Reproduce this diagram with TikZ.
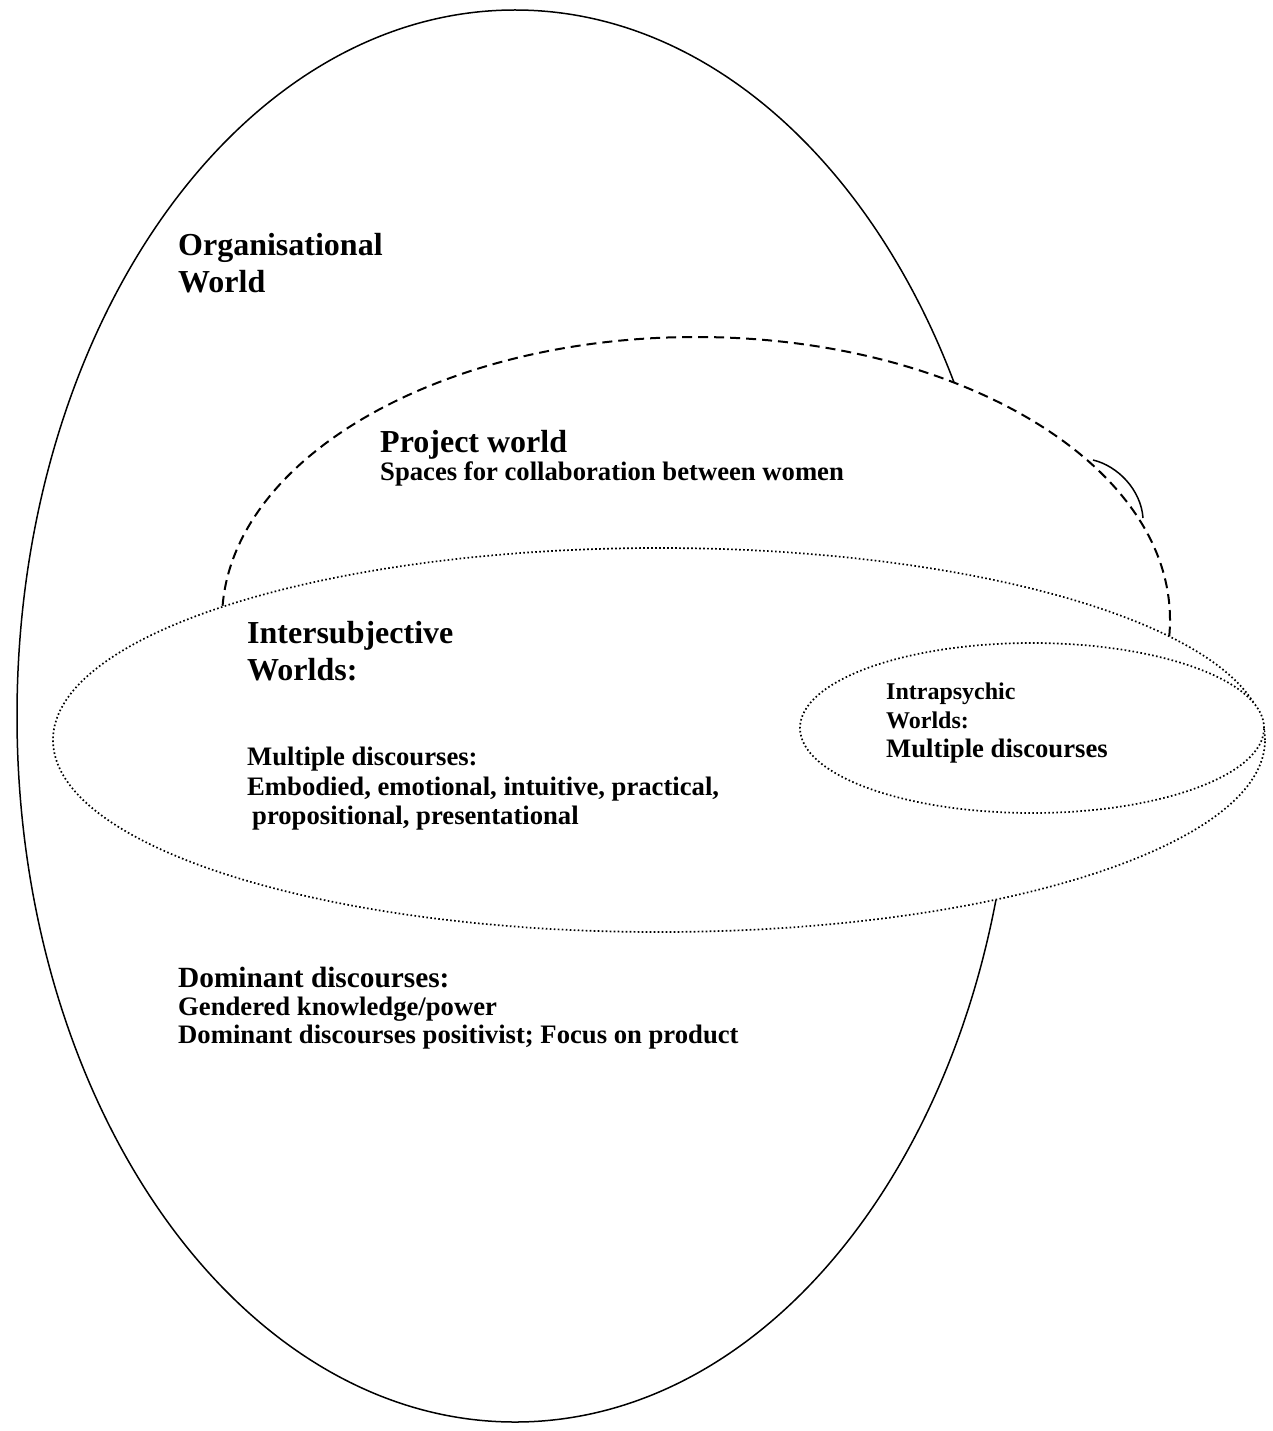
\documentclass[tikz,border=0pt]{standalone}
\usepackage{fontspec}
\setmainfont{Liberation Serif}
\begin{document}
\begin{tikzpicture}[x=1pt,y=-1pt,
  solidline/.style={draw=black,line width=1.5pt,fill=white},
  dashline/.style={draw=black,line width=2pt,dash pattern=on 10pt off 6pt,fill=white},
  dotline/.style={draw=black,line width=1.7pt,dash pattern=on 1.6pt off 2.4pt,fill=white},
  big/.style={font=\bfseries\fontsize{32}{36}\selectfont,anchor=base west,inner sep=0pt},
  mid/.style={font=\bfseries\fontsize{29.33}{33}\selectfont,anchor=base west,inner sep=0pt},
  norm/.style={font=\bfseries\fontsize{26.67}{30}\selectfont,anchor=base west,inner sep=0pt},
  small/.style={font=\bfseries\fontsize{24}{28}\selectfont,anchor=base west,inner sep=0pt}]
\useasboundingbox (0,0) rectangle (1272,1431);
\fill[white] (0,0) rectangle (1272,1431);
% organisational world
\draw[solidline] (515,716) ellipse [x radius=498pt, y radius=706pt];
\node[big] (org1) at (178,255) {Organisational};
\node[big] (org2) at (178,292) {World};
% project world
\draw[dashline] (696,620) ellipse [x radius=474pt, y radius=283pt];
\coordinate (arcA) at (1093,460);
\coordinate (arcB) at (1143,518);
\draw[line width=1.5pt] (arcA) .. controls (1118,466) and (1141,490) .. (arcB);
\node[big] (proj1) at (380,452) {Project world};
\node[norm] (proj2) at (380,480) {Spaces for collaboration between women};
% intersubjective
\draw[dotline] (659,740) ellipse [x radius=606pt, y radius=192pt];
\node[big] (int1) at (247,643) {Intersubjective};
\node[big] (int2) at (247,680) {Worlds:};
\node[norm] (md1) at (247,765) {Multiple discourses:};
\node[norm] (md2) at (247,795) {Embodied, emotional, intuitive, practical,};
\node[norm] (md3) at (252,824) {propositional, presentational};
% intrapsychic
\draw[dotline] (1032,728) ellipse [x radius=232pt, y radius=85pt];
\node[small] (ip1) at (886,699) {Intrapsychic};
\node[small] (ip2) at (886,728) {Worlds:};
\node[norm] (ip3) at (886,757) {Multiple discourses};
% dominant
\node[mid] (dom1) at (178,987) {Dominant discourses:};
\node[norm] (dom2) at (178,1015) {Gendered knowledge/power};
\node[norm] (dom3) at (178,1043) {Dominant discourses positivist; Focus on product};
\end{tikzpicture}
\end{document}
